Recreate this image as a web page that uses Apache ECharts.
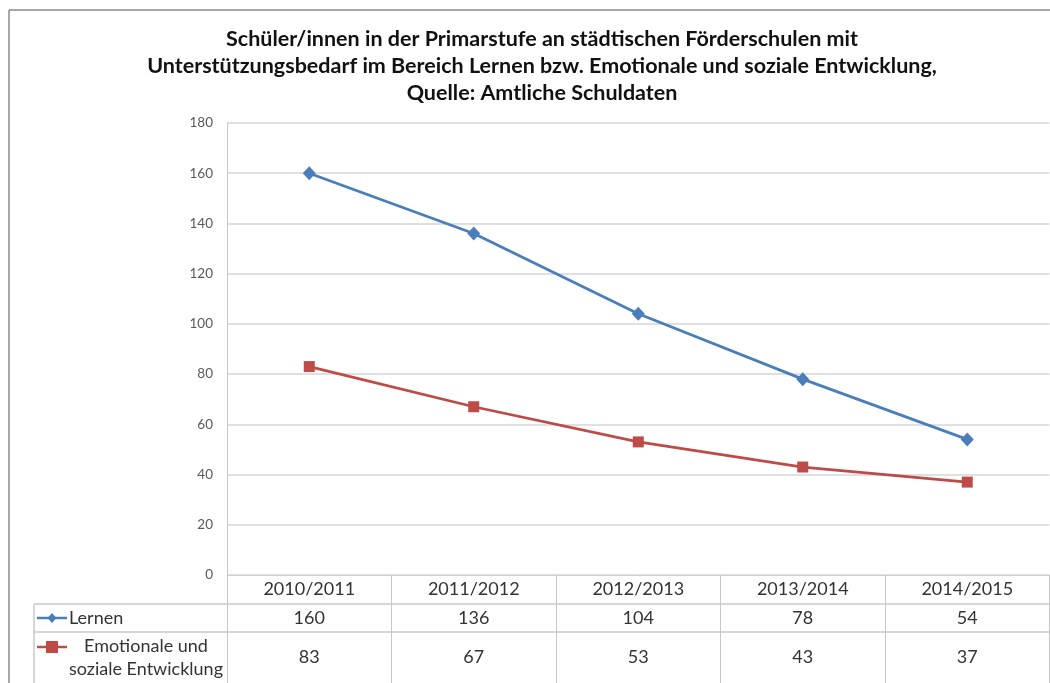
<!DOCTYPE html>
<html>
<head>
<meta charset="utf-8">
<script src="https://cdn.jsdelivr.net/npm/echarts@6/dist/echarts.min.js"></script>
<style>
  html, body { margin: 0; padding: 0; background: #fff; }
  #chart { width: 1050px; height: 683px; }
</style>
</head>
<body>
<div id="chart"></div>
<script>
// Daten aus der Tabelle unter dem Diagramm
const years = ['2010/2011', '2011/2012', '2012/2013', '2013/2014', '2014/2015'];
const lernen = [160, 136, 104, 78, 54];
const emotional = [83, 67, 53, 43, 37];
const seriesNames = ['Lernen', 'Emotionale und\nsoziale Entwicklung'];
const yTicks = { min: 0, max: 180, step: 20 };

const FONT = 'Lato, "Liberation Sans", sans-serif';
const BLUE = '#4A7EBB';
const RED = '#BE4B48';
const TABLE_LINE = '#c8c8c8';
const TABLE_FONT_SIZE = 18;

const chart = echarts.init(document.getElementById('chart'));

const valueAxis = (data, offset, margin) => ({
    type: 'category',
    data: data.map(String),
    position: 'bottom',
    offset: offset,
    axisLine: { show: false },
    axisTick: { show: false },
    axisLabel: { interval: 0, margin: margin, fontSize: TABLE_FONT_SIZE, color: '#333', fontFamily: FONT }
});

const option = {
    animation: false,
    title: {
        text: 'Schüler/innen in der Primarstufe an städtischen Förderschulen mit\nUnterstützungsbedarf im Bereich Lernen bzw. Emotionale und soziale Entwicklung,\nQuelle: Amtliche Schuldaten',
        left: 537,
        top: 21,
        textAlign: 'center',
        textStyle: { fontFamily: FONT, fontWeight: 'bold', fontSize: 21.5, lineHeight: 27, color: '#111' }
    },
    grid: { left: 227, right: 0.5, top: 123, bottom: 108, containLabel: false },
    xAxis: [
        {
            type: 'category',
            data: years,
            boundaryGap: true,
            axisLine: { show: true, lineStyle: { color: '#d0d0d0', width: 1 } },
            axisTick: { show: true, length: 108, lineStyle: { color: TABLE_LINE } },
            axisLabel: { interval: 0, margin: 5, fontSize: TABLE_FONT_SIZE, color: '#333', fontFamily: FONT }
        },
        valueAxis(lernen, 29, 5),
        valueAxis(emotional, 57, 16)
    ],
    yAxis: {
        type: 'value',
        min: yTicks.min,
        max: yTicks.max,
        interval: yTicks.step,
        axisLine: { show: true, lineStyle: { color: '#c8c8c8' } },
        axisTick: { show: false },
        axisLabel: { margin: 14, fontSize: 13.5, color: '#595959', fontFamily: FONT },
        splitLine: { lineStyle: { color: '#d6d6d6', width: 1.5 } }
    },
    series: [
        {
            name: seriesNames[0],
            type: 'line',
            data: lernen,
            symbol: 'diamond',
            symbolSize: [13, 14],
            itemStyle: { color: BLUE },
            lineStyle: { color: BLUE, width: 2.75 }
        },
        {
            name: seriesNames[1],
            type: 'line',
            data: emotional,
            symbol: 'rect',
            symbolSize: 11,
            itemStyle: { color: RED },
            lineStyle: { color: RED, width: 2.75 }
        }
    ]
};
chart.setOption(option);

// Tabellenrahmen und Legendenspalte nachträglich zeichnen
const drawTable = () => {
    const x0 = chart.convertToPixel({ xAxisIndex: 0 }, years[0]);
    const x1 = chart.convertToPixel({ xAxisIndex: 0 }, years[1]);
    const band = x1 - x0;
    const plotLeft = x0 - band / 2;
    const plotRight = plotLeft + band * years.length;
    const yZero = chart.convertToPixel({ yAxisIndex: 0 }, 0);
    const row1 = yZero + 29;
    const row2 = yZero + 57;
    const tableLeft = 34;
    const bottom = 683;

    const line = (xa, ya, xb, yb, color, w) => ({
        type: 'line',
        shape: { x1: xa, y1: ya, x2: xb, y2: yb },
        style: { stroke: color, lineWidth: w || 1 },
        silent: true
    });

    const cy1 = row1 + 14;
    const cy2 = row2 + 15;
    const elements = [
        // äußerer Rahmen
        line(9, 10, 1050, 10, '#8a8a8a', 1.5),
        line(9, 10, 9, bottom, '#8a8a8a', 1.5),
        // Tabellenlinien
        line(tableLeft, row1, plotRight, row1, TABLE_LINE, 1.5),
        line(tableLeft, row2, plotRight, row2, TABLE_LINE, 1.5),
        line(tableLeft, row1, tableLeft, bottom, TABLE_LINE, 1.5),
        // Legendensymbole
        line(37, cy1, 67, cy1, BLUE, 2.5),
        {
            type: 'polygon',
            shape: { points: [[52, cy1 - 5], [56.5, cy1], [52, cy1 + 5], [47.5, cy1]] },
            style: { fill: BLUE },
            silent: true
        },
        line(37, cy2, 67, cy2, RED, 2.5),
        {
            type: 'rect',
            shape: { x: 46, y: cy2 - 6, width: 12, height: 12 },
            style: { fill: RED },
            silent: true
        },
        {
            type: 'text',
            x: 69, y: cy1,
            style: { text: seriesNames[0], font: TABLE_FONT_SIZE + 'px ' + FONT, fill: '#333', verticalAlign: 'middle', align: 'left' },
            silent: true
        },
        {
            type: 'text',
            x: 146, y: row2 + 26,
            style: { text: seriesNames[1], font: TABLE_FONT_SIZE + 'px ' + FONT, fill: '#333', verticalAlign: 'middle', align: 'center', lineHeight: 23 },
            silent: true
        }
    ];
    chart.setOption({ graphic: { elements: elements } });
};
drawTable();
</script>
</body>
</html>
